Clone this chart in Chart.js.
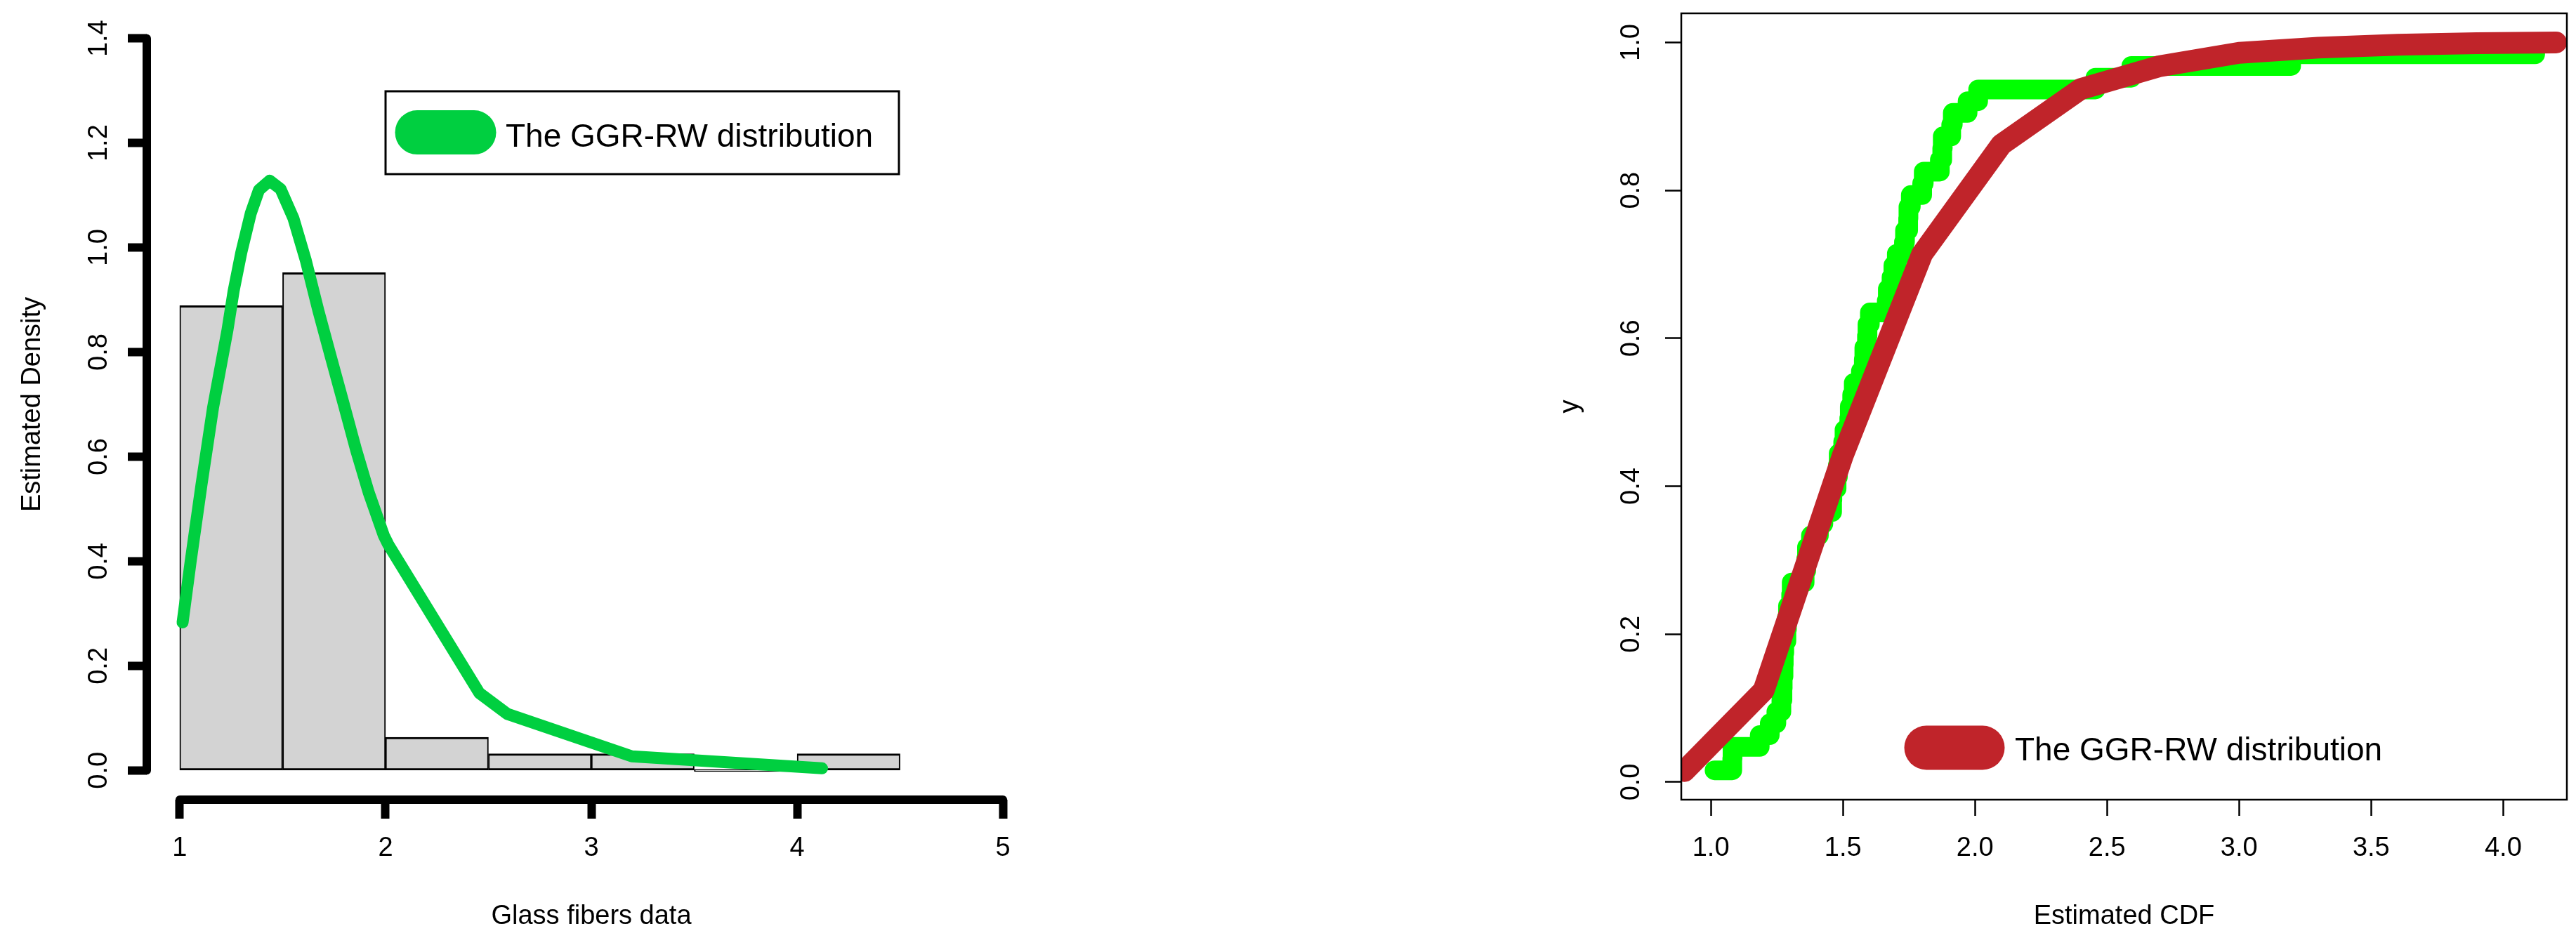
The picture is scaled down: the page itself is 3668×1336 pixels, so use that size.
<!DOCTYPE html>
<html>
<head>
<meta charset="utf-8">
<script src="https://cdn.jsdelivr.net/npm/chart.js@4.4.1/dist/chart.umd.min.js"></script>
<style>
html,body{margin:0;padding:0;background:#fff;}
#wrap{position:relative;width:3668px;height:1336px;overflow:hidden;background:#fff;}
#c1{position:absolute;left:0;top:0;}
#c2{position:absolute;left:2100px;top:0;}
</style>
</head>
<body>
<div id="wrap">
<canvas id="c1" width="1700" height="1336"></canvas>
<canvas id="c2" width="1568" height="1336"></canvas>
</div>
<script>
// ---------------- data ----------------
const legendLabel = 'The GGR-RW distribution';

// Left panel: histogram (bin centres, density heights)
const histBinCenters = [1.25, 1.75, 2.25, 2.75, 3.25, 3.75, 4.25];
const histDensity    = [0.889, 0.952, 0.0635, 0.0317, 0.0317, 0, 0.0317];
// Fitted density curve
const densityX = [1.014, 1.053, 1.106, 1.162, 1.232, 1.262, 1.299, 1.345, 1.385, 1.437, 1.49, 1.5525, 1.613, 1.674, 1.735, 1.796, 1.857, 1.918, 1.991, 2.012, 2.456, 2.592, 3.197, 4.121];
const densityY = [0.283, 0.399, 0.547, 0.694, 0.842, 0.917, 0.99, 1.065, 1.11, 1.128, 1.112, 1.056, 0.975, 0.879, 0.79, 0.702, 0.613, 0.532, 0.45, 0.433, 0.148, 0.108, 0.027, 0.004];
const histXTicks = [1, 2, 3, 4, 5];
const histYTicks = [0, 0.2, 0.4, 0.6, 0.8, 1.0, 1.2, 1.4];

// Right panel: empirical CDF (sorted glass fibre strengths) and fitted CDF
const glassFibers = [1.014, 1.081, 1.082, 1.185, 1.223, 1.248, 1.267, 1.271, 1.272, 1.275, 1.276, 1.278, 1.286, 1.288, 1.292, 1.304, 1.306, 1.355, 1.361, 1.364, 1.379, 1.409, 1.426, 1.459, 1.46, 1.476, 1.481, 1.484, 1.501, 1.506, 1.524, 1.526, 1.535, 1.541, 1.568, 1.579, 1.581, 1.591, 1.593, 1.602, 1.666, 1.67, 1.684, 1.691, 1.704, 1.731, 1.735, 1.747, 1.748, 1.757, 1.8, 1.806, 1.867, 1.876, 1.878, 1.91, 1.916, 1.972, 2.012, 2.456, 2.592, 3.197, 4.121];
const ecdfY = [0.0159, 0.0317, 0.0476, 0.0635, 0.0794, 0.0952, 0.1111, 0.127, 0.1429, 0.1587, 0.1746, 0.1905, 0.2063, 0.2222, 0.2381, 0.254, 0.2698, 0.2857, 0.3016, 0.3175, 0.3333, 0.3492, 0.3651, 0.381, 0.3968, 0.4127, 0.4286, 0.4444, 0.4603, 0.4762, 0.4921, 0.5079, 0.5238, 0.5397, 0.5556, 0.5714, 0.5873, 0.6032, 0.619, 0.6349, 0.6508, 0.6667, 0.6825, 0.6984, 0.7143, 0.7302, 0.746, 0.7619, 0.7778, 0.7937, 0.8095, 0.8254, 0.8413, 0.8571, 0.873, 0.8889, 0.9048, 0.9206, 0.9365, 0.9524, 0.9683, 0.9841, 1.0];
const cdfX = [0.9, 1.2, 1.5, 1.8, 2.1, 2.4, 2.7, 3.0, 3.3, 3.6, 3.9, 4.2];
const cdfY = [0.015, 0.124, 0.442, 0.714, 0.862, 0.937, 0.968, 0.986, 0.993, 0.997, 0.999, 1.0];
const cdfXTicks = [1.0, 1.5, 2.0, 2.5, 3.0, 3.5, 4.0];
const cdfYTicks = [0, 0.2, 0.4, 0.6, 0.8, 1.0];

// ---------------- plugins ----------------
const FONT = 'Liberation Sans, Arial, sans-serif';

const rAxes = {
  id: 'rAxes',
  afterDraw(chart, args, o) {
    if (!o || !o.enabled) return;
    const {ctx, chartArea: ca, scales: {x, y}} = chart;
    ctx.save();
    ctx.strokeStyle = '#000';
    ctx.lineWidth = o.width;
    if (o.box) {
      ctx.strokeRect(ca.left, ca.top, ca.right - ca.left, ca.bottom - ca.top);
    } else {
      ctx.lineCap = 'round';
      ctx.beginPath();
      ctx.moveTo(ca.left, y.getPixelForValue(o.yTicks[0]));
      ctx.lineTo(ca.left, y.getPixelForValue(o.yTicks[o.yTicks.length - 1]));
      ctx.moveTo(x.getPixelForValue(o.xTicks[0]), ca.bottom);
      ctx.lineTo(x.getPixelForValue(o.xTicks[o.xTicks.length - 1]), ca.bottom);
      ctx.stroke();
    }
    ctx.restore();
  }
};

const rLegend = {
  id: 'rLegend',
  afterDatasetsDraw(chart, args, o) {
    if (!o || !o.enabled) return;
    const ds = chart.data.datasets[o.datasetIndex];
    const {ctx, chartArea: ca} = chart;
    ctx.save();
    if (o.box) {
      ctx.fillStyle = '#fff';
      ctx.fillRect(ca.left + o.box.x, ca.top + o.box.y, o.box.w, o.box.h);
      ctx.lineWidth = o.box.lw;
      ctx.strokeStyle = '#000';
      ctx.strokeRect(ca.left + o.box.x, ca.top + o.box.y, o.box.w, o.box.h);
    }
    ctx.strokeStyle = ds.borderColor;
    ctx.lineWidth = o.symWidth;
    ctx.lineCap = 'round';
    ctx.beginPath();
    ctx.moveTo(ca.left + o.symX0, ca.top + o.symY);
    ctx.lineTo(ca.left + o.symX1, ca.top + o.symY);
    ctx.stroke();
    ctx.fillStyle = '#000';
    ctx.font = o.fontSize + 'px ' + FONT;
    ctx.textAlign = 'left';
    ctx.textBaseline = 'alphabetic';
    ctx.fillText(ds.label, ca.left + o.textX, ca.top + o.textY);
    ctx.restore();
  }
};

Chart.register(rAxes, rLegend);

function fixedTicks(list) {
  return (s) => { s.ticks = list.map(v => ({value: v})); };
}
function fixSize(dim, val) {
  return (s) => {
    s[dim] = val;
    s.paddingTop = 0; s.paddingBottom = 0; s.paddingLeft = 0; s.paddingRight = 0;
  };
}

// ---------------- left chart ----------------
new Chart(document.getElementById('c1'), {
  type: 'bar',
  data: {
    datasets: [
      {
        type: 'line',
        label: legendLabel,
        data: densityX.map((v, i) => ({x: v, y: densityY[i]})),
        borderColor: '#00CF40',
        backgroundColor: '#00CF40',
        borderWidth: 17,
        pointRadius: 0,
        tension: 0,
        fill: false,
        borderCapStyle: 'round',
        borderJoinStyle: 'round',
        order: 0
      },
      {
        type: 'bar',
        label: 'Histogram',
        data: histBinCenters.map((v, i) => ({x: v, y: histDensity[i]})),
        backgroundColor: '#D3D3D3',
        borderColor: '#000',
        borderWidth: {top: 3, bottom: 3, left: 2, right: 2},
        borderSkipped: false,
        barPercentage: 1,
        categoryPercentage: 1,
        minBarLength: 3,
        order: 1
      }
    ]
  },
  options: {
    responsive: false,
    devicePixelRatio: 1,
    animation: false,
    events: [],
    layout: {padding: {left: 0, top: 13, right: 225, bottom: 0}, autoPadding: false},
    plugins: {
      legend: {display: false},
      tooltip: {enabled: false},
      rAxes: {enabled: true, width: 12, xTicks: histXTicks, yTicks: histYTicks},
      rLegend: {enabled: true, datasetIndex: 0,
        box: {x: 340, y: 117, w: 731, h: 118, lw: 3},
        symX0: 385, symX1: 466, symY: 175.6, symWidth: 63,
        textX: 511, textY: 195.5, fontSize: 46}
    },
    scales: {
      x: {
        type: 'linear', min: 0.84, max: 5.16, offset: false,
        afterBuildTicks: fixedTicks(histXTicks),
        afterFit: fixSize('height', 197),
        border: {display: false},
        grid: {display: true, drawOnChartArea: false, drawTicks: true, tickLength: 27, tickWidth: 12, tickColor: '#000', offset: false},
        ticks: {color: '#000', font: {family: FONT, size: 38}, padding: 20, maxRotation: 0, autoSkip: false, callback: (v) => String(v)},
        title: {display: true, text: 'Glass fibers data', color: '#000', font: {family: FONT, size: 38}, padding: {top: 0, bottom: 8}}
      },
      y: {
        type: 'linear', min: -0.056, max: 1.456,
        afterBuildTicks: fixedTicks(histYTicks),
        afterFit: fixSize('width', 209),
        border: {display: false},
        grid: {display: true, drawOnChartArea: false, drawTicks: true, tickLength: 27, tickWidth: 12, tickColor: '#000'},
        ticks: {color: '#000', font: {family: FONT, size: 38}, padding: 14, minRotation: 90, maxRotation: 90, crossAlign: 'center', autoSkip: false, callback: (v) => Number(v).toFixed(1)},
        title: {display: true, text: 'Estimated Density', color: '#000', font: {family: FONT, size: 38}, padding: {top: 24, bottom: 0}}
      }
    }
  }
});

// ---------------- right chart ----------------
new Chart(document.getElementById('c2'), {
  type: 'line',
  data: {
    datasets: [
      {
        label: legendLabel,
        data: cdfX.map((v, i) => ({x: v, y: cdfY[i]})),
        borderColor: '#C0242A',
        backgroundColor: '#C0242A',
        borderWidth: 31,
        pointRadius: 0,
        tension: 0,
        fill: false,
        borderCapStyle: 'round',
        borderJoinStyle: 'round',
        clip: 0,
        order: 0
      },
      {
        label: 'Empirical CDF',
        data: glassFibers.map((v, i) => ({x: v, y: ecdfY[i]})),
        borderColor: '#00FF00',
        backgroundColor: '#00FF00',
        borderWidth: 28,
        pointRadius: 0,
        stepped: 'before',
        fill: false,
        borderCapStyle: 'round',
        borderJoinStyle: 'round',
        clip: 0,
        order: 1
      }
    ]
  },
  options: {
    responsive: false,
    devicePixelRatio: 1,
    animation: false,
    events: [],
    layout: {padding: {left: 0, top: 19, right: 13, bottom: 0}, autoPadding: false},
    plugins: {
      legend: {display: false},
      tooltip: {enabled: false},
      rAxes: {enabled: true, box: true, width: 2.5},
      rLegend: {enabled: true, datasetIndex: 0,
        symX0: 349, symX1: 429, symY: 1046, symWidth: 63,
        textX: 475, textY: 1064, fontSize: 46}
    },
    scales: {
      x: {
        type: 'linear', min: 0.888, max: 4.241, offset: false,
        afterBuildTicks: fixedTicks(cdfXTicks),
        afterFit: fixSize('height', 197),
        border: {display: false},
        grid: {display: true, drawOnChartArea: false, drawTicks: true, tickLength: 23, tickWidth: 2.5, tickColor: '#000', offset: false},
        ticks: {color: '#000', font: {family: FONT, size: 38}, padding: 24, maxRotation: 0, autoSkip: false, callback: (v) => Number(v).toFixed(1)},
        title: {display: true, text: 'Estimated CDF', color: '#000', font: {family: FONT, size: 38}, padding: {top: 0, bottom: 8}}
      },
      y: {
        type: 'linear', min: -0.0238, max: 1.0394,
        afterBuildTicks: fixedTicks(cdfYTicks),
        afterFit: fixSize('width', 294),
        border: {display: false},
        grid: {display: true, drawOnChartArea: false, drawTicks: true, tickLength: 23, tickWidth: 2.5, tickColor: '#000'},
        ticks: {color: '#000', font: {family: FONT, size: 38}, padding: 21, minRotation: 90, maxRotation: 90, crossAlign: 'center', autoSkip: false, callback: (v) => Number(v).toFixed(1)},
        title: {display: true, text: 'y', color: '#000', font: {family: FONT, size: 38}, padding: {top: 114, bottom: 0}}
      }
    }
  }
});
</script>
</body>
</html>
